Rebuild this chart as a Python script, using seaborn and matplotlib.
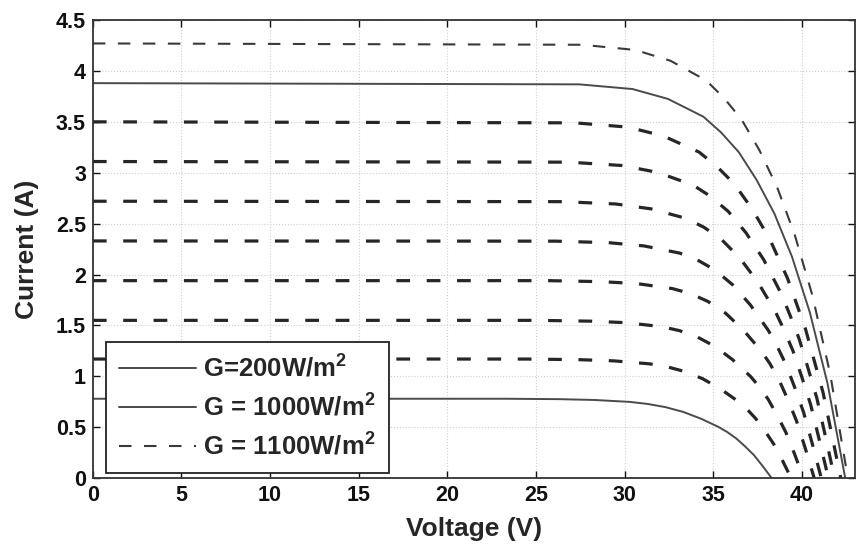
import numpy as np
import pandas as pd
import matplotlib
matplotlib.use("Agg")
import matplotlib.pyplot as plt
from matplotlib.ticker import FuncFormatter
import seaborn as sns

# irradiance levels (W/m2) and the I-V points
levels = [200, 300, 400, 500, 600, 700, 800, 900, 1000, 1100]

v200 = [0, 23.3, 26.3, 28.3, 30.3, 31.3, 32.3, 33.3, 34.3, 35.3, 35.8, 36.3, 36.8, 37.3, 37.8, 38.3]
i200 = [0.78, 0.78, 0.776, 0.768, 0.749, 0.729, 0.698, 0.651, 0.585, 0.503, 0.452, 0.39, 0.312, 0.226, 0.117, 0]

v300 = [0, 24.4, 27.4, 29.4, 31.4, 32.4, 33.4, 34.4, 35.4, 36.4, 36.9, 37.4, 37.9, 38.4, 38.9, 39.4]
i300 = [1.17, 1.17, 1.164, 1.152, 1.123, 1.094, 1.047, 0.977, 0.878, 0.755, 0.679, 0.585, 0.468, 0.339, 0.176, 0]

v400 = [0, 25.1, 28.1, 30.1, 32.1, 33.1, 34.1, 35.1, 36.1, 37.1, 37.6, 38.1, 38.6, 39.1, 39.6, 40.1]
i400 = [1.55, 1.55, 1.542, 1.527, 1.488, 1.449, 1.387, 1.294, 1.163, 1.0, 0.899, 0.775, 0.62, 0.45, 0.233, 0]

v500 = [0, 25.7, 28.7, 30.7, 32.7, 33.7, 34.7, 35.7, 36.7, 37.7, 38.2, 38.7, 39.2, 39.7, 40.2, 40.7]
i500 = [1.94, 1.94, 1.93, 1.911, 1.862, 1.814, 1.736, 1.62, 1.455, 1.251, 1.125, 0.97, 0.776, 0.563, 0.291, 0]

v600 = [0, 26.1, 29.1, 31.1, 33.1, 34.1, 35.1, 36.1, 37.1, 38.1, 38.6, 39.1, 39.6, 40.1, 40.6, 41.1]
i600 = [2.33, 2.328, 2.313, 2.281, 2.211, 2.144, 2.045, 1.899, 1.701, 1.454, 1.299, 1.118, 0.891, 0.647, 0.332, 0]

v700 = [0, 26.5, 29.5, 31.5, 33.5, 34.5, 35.5, 36.5, 37.5, 38.5, 39.0, 39.5, 40.0, 40.5, 41.0, 41.5]
i700 = [2.72, 2.716, 2.693, 2.645, 2.55, 2.462, 2.339, 2.162, 1.931, 1.639, 1.455, 1.251, 0.993, 0.721, 0.367, 0]

v800 = [0, 26.85, 29.85, 31.85, 33.85, 34.85, 35.85, 36.85, 37.85, 38.85, 39.35, 39.85, 40.35, 40.85, 41.35, 41.85]
i800 = [3.11, 3.104, 3.071, 3.004, 2.88, 2.768, 2.62, 2.41, 2.146, 1.807, 1.594, 1.368, 1.081, 0.785, 0.397, 0]

v900 = [0, 27.2, 30.2, 32.2, 34.2, 35.2, 36.2, 37.2, 38.2, 39.2, 39.7, 40.2, 40.7, 41.2, 41.7, 42.2]
i900 = [3.5, 3.49, 3.448, 3.36, 3.203, 3.063, 2.888, 2.643, 2.345, 1.96, 1.715, 1.47, 1.155, 0.84, 0.42, 0]

v1000 = [0, 27.45, 30.45, 32.45, 34.45, 35.45, 36.45, 37.45, 38.45, 39.45, 39.95, 40.45, 40.95, 41.45, 41.95, 42.45]
i1000 = [3.88, 3.868, 3.822, 3.725, 3.55, 3.395, 3.201, 2.929, 2.6, 2.173, 1.901, 1.63, 1.28, 0.931, 0.466, 0]

v1100 = [0, 27.6, 30.6, 32.6, 34.6, 35.6, 36.6, 37.6, 38.6, 39.6, 40.1, 40.6, 41.1, 41.6, 42.1, 42.6]
i1100 = [4.27, 4.257, 4.206, 4.099, 3.907, 3.736, 3.523, 3.224, 2.861, 2.391, 2.092, 1.793, 1.409, 1.025, 0.512, 0]

voltages = [v200, v300, v400, v500, v600, v700, v800, v900, v1000, v1100]
currents = [i200, i300, i400, i500, i600, i700, i800, i900, i1000, i1100]

legend_labels = {200: "G=200W/m$^2$", 1000: "G = 1000W/m$^2$", 1100: "G = 1100W/m$^2$"}

x_ticks = [0, 5, 10, 15, 20, 25, 30, 35, 40]
y_ticks = [0, 0.5, 1, 1.5, 2, 2.5, 3, 3.5, 4, 4.5]

frames = []
for g, v, i in zip(levels, voltages, currents):
    frames.append(pd.DataFrame({"G": g, "Voltage": v, "Current": i}))
df = pd.concat(frames, ignore_index=True)

sns.set_theme(style="ticks")
plt.rcParams["font.family"] = ["Liberation Sans", "DejaVu Sans"]
plt.rcParams["font.weight"] = "bold"
plt.rcParams["mathtext.default"] = "regular"
plt.rcParams["xtick.direction"] = "in"
plt.rcParams["ytick.direction"] = "in"
plt.rcParams["xtick.top"] = True
plt.rcParams["ytick.right"] = True

fig = plt.figure(figsize=(8.68, 5.56), dpi=100)
ax = fig.add_axes([0.107, 0.14, 0.878, 0.824])

handles = {}
for g in levels:
    sub = df[df["G"] == g]
    if g in (200, 1000):
        kw = dict(color="#4a4a4a", linewidth=1.4, linestyle="-")
    elif g == 1100:
        kw = dict(color="#3a3a3a", linewidth=1.5, dashes=(6, 6))
    else:
        kw = dict(color="#262626", linewidth=2.3, dashes=(4.3, 5.2))
    sns.lineplot(data=sub, x="Voltage", y="Current", ax=ax, sort=False,
                 estimator=None, legend=False, **kw)
    handles[g] = ax.lines[-1]

ax.set_xlim(0, 43)
ax.set_ylim(0, 4.5)
ax.set_xticks(x_ticks)
ax.set_yticks(y_ticks)
ax.yaxis.set_major_formatter(FuncFormatter(lambda y, _: f"{y:g}"))
ax.tick_params(labelsize=15.5, length=5, width=1, colors="#111111", pad=5)
for lab in ax.get_xticklabels() + ax.get_yticklabels():
    lab.set_fontweight("bold")
ax.grid(True, linestyle=":", linewidth=0.8, color="#d0d0d0")
for s in ax.spines.values():
    s.set_linewidth(1.3)
    s.set_color("#333333")

ax.set_xlabel("Voltage (V)", fontsize=19, fontweight="bold", labelpad=8)
ax.set_ylabel("Current (A)", fontsize=19, fontweight="bold", labelpad=12)

leg_handles = [handles[200], handles[1000], handles[1100]]
leg = ax.legend(leg_handles, [legend_labels[200], legend_labels[1000], legend_labels[1100]],
                loc="lower left", bbox_to_anchor=(0.017, 0.012), fontsize=18.5,
                handlelength=3.0, frameon=True, fancybox=False, framealpha=1,
                edgecolor="#222222", borderpad=0.5, labelspacing=0.45,
                handletextpad=0.3, borderaxespad=0)
leg.get_frame().set_linewidth(1.3)
for t in leg.get_texts():
    t.set_fontweight("bold")

fig.savefig("out.png", dpi=100, facecolor="white")
